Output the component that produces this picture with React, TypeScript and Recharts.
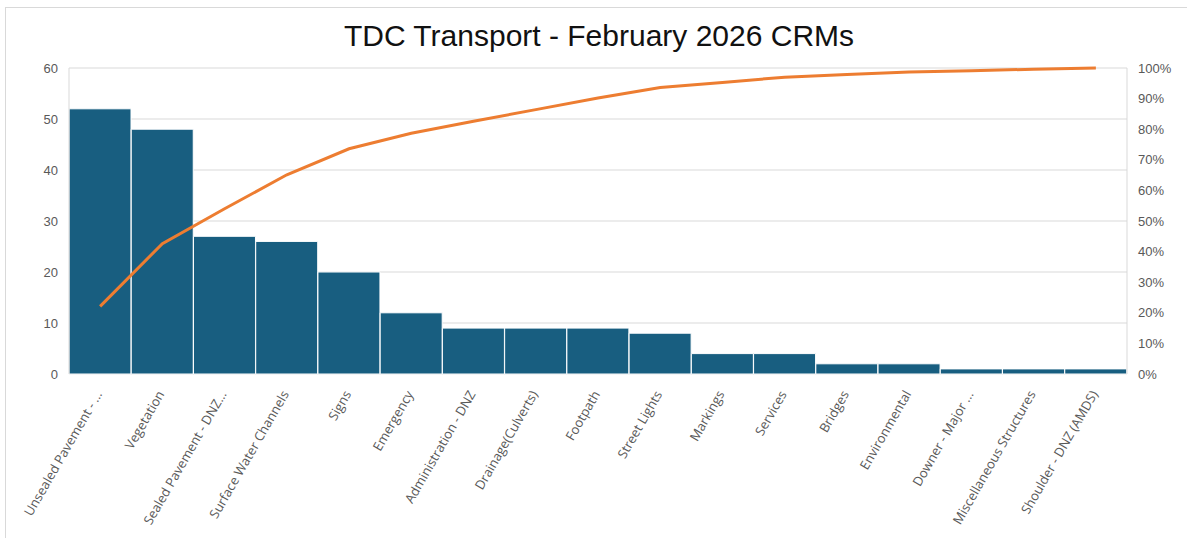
import { ComposedChart, Bar, Line, XAxis, YAxis, CartesianGrid } from 'recharts'

const categories = [
  'Unsealed Pavement - ...',
  'Vegetation',
  'Sealed Pavement - DNZ...',
  'Surface Water Channels',
  'Signs',
  'Emergency',
  'Administration - DNZ',
  'Drainage(Culverts)',
  'Footpath',
  'Street Lights',
  'Markings',
  'Services',
  'Bridges',
  'Environmental',
  'Downer - Major ...',
  'Miscellaneous Structures',
  'Shoulder - DNZ (AMDS)',
]
const counts = [52, 48, 27, 26, 20, 12, 9, 9, 9, 8, 4, 4, 2, 2, 1, 1, 1]
const cumulativePct = [22.1, 42.6, 54.0, 65.1, 73.6, 78.7, 82.6, 86.4, 90.2, 93.6, 95.3, 97.0, 97.9, 98.7, 99.1, 99.6, 100]
const leftTicks = [0, 10, 20, 30, 40, 50, 60]
const rightTicks = [0, 10, 20, 30, 40, 50, 60, 70, 80, 90, 100]

const data = categories.map((name, i) => ({ name, count: counts[i], cum: cumulativePct[i] }))

const AXIS_TEXT = '#595959'

function XTick({ x, y, payload }: any) {
  return (
    <g transform={`translate(${x - 1},${y + 10})`}>
      <text
        transform="rotate(-60)"
        textAnchor="end"
        dy={4}
        fill={AXIS_TEXT}
        fontSize={13}
        fontFamily="'Open Sans', Lato, sans-serif"
      >
        {payload.value}
      </text>
    </g>
  )
}

export default function App() {
  return (
    <div style={{ position: 'fixed', left: 0, top: 0, width: 1187, height: 538, background: '#fff', fontFamily: "'Liberation Sans', Arial, sans-serif" }}>
      <div style={{ position: 'absolute', left: 5, top: 7, right: -10, bottom: -10, borderTop: '1px solid #d9d9d9', borderLeft: '1px solid #d9d9d9' }} />
      <div style={{ position: 'absolute', left: 0, width: 1198, top: 19, textAlign: 'center', fontSize: 30, lineHeight: '34px', color: '#111' }}>
        TDC Transport - February 2026 CRMs
      </div>
      <div style={{ position: 'absolute', left: 0, top: 0 }}>
        <ComposedChart
          width={1187}
          height={538}
          data={data}
          margin={{ top: 68, right: 0, bottom: 9, left: 0 }}
          barCategoryGap={0}
          barGap={0}
        >
          <CartesianGrid yAxisId="left" vertical={false} stroke="#d9d9d9" />
          <XAxis
            dataKey="name"
            interval={0}
            height={155}
            axisLine={false}
            tickLine={false}
            tick={<XTick />}
          />
          <YAxis
            yAxisId="left"
            width={69}
            domain={[0, 60]}
            ticks={leftTicks}
            axisLine={{ stroke: '#d9d9d9' }}
            tickLine={false}
            tickSize={9}
            tickMargin={2}
            tick={{ fill: AXIS_TEXT, fontSize: 13 }}
          />
          <YAxis
            yAxisId="right"
            orientation="right"
            width={60}
            domain={[0, 100]}
            ticks={rightTicks}
            tickFormatter={(v) => `${v}%`}
            axisLine={{ stroke: '#d9d9d9' }}
            tickLine={false}
            tickSize={9}
            tickMargin={2}
            tick={{ fill: AXIS_TEXT, fontSize: 13 }}
          />
          <Bar yAxisId="left" dataKey="count" fill="#185E80" stroke="#ffffff" strokeWidth={1} isAnimationActive={false} />
          <Line yAxisId="right" type="linear" dataKey="cum" stroke="#ED7D31" strokeWidth={3} dot={false} isAnimationActive={false} />
        </ComposedChart>
      </div>
    </div>
  )
}
